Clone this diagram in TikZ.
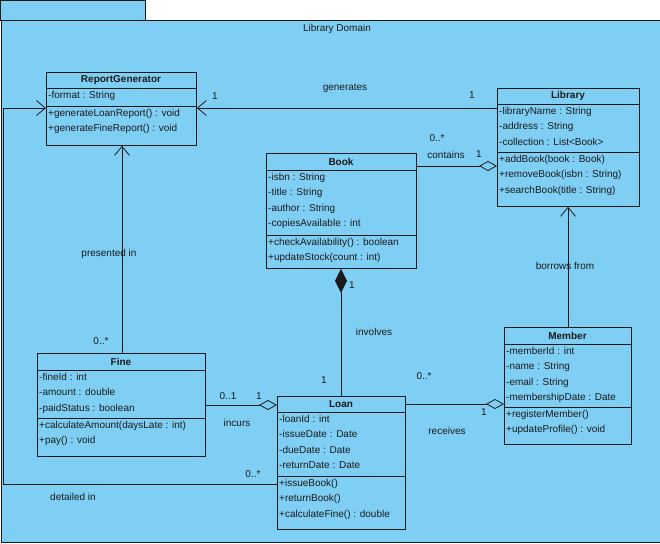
\documentclass[tikz,border=0pt]{standalone}
\usepackage{fontspec}
\setmainfont{Liberation Sans}
\usetikzlibrary{arrows.meta}
\definecolor{bg}{HTML}{7FCFF5}
\definecolor{ink}{HTML}{1A1A1A}
\tikzset{
  list/.style={align=left, inner sep=0pt, anchor=north west, font=\fontsize{10}{15.5}\selectfont, text=ink},
  lbl/.style={inner sep=0pt, font=\fontsize{10}{12}\selectfont, text=ink},
  conn/.style={draw=ink, line width=0.8pt},
  openarr/.style={-{Straight Barb[length=9pt,width=15pt,line width=0.8pt]}},
  aggr/.style={-{Diamond[open,length=18pt,width=10pt,line width=0.8pt]}},
  comp/.style={-{Diamond[length=24pt,width=12pt]}},
}
\newcommand\umlbox[8]{%
  \node[draw=ink, line width=0.8pt, fill=bg, minimum width={(#4-#2)*1pt}, minimum height={(#7-#3)*1pt}, anchor=north west, inner sep=0pt] (#1) at (#2,#3) {};
  \draw[ink, line width=0.8pt] (#2,#5) -- (#4,#5) (#2,#6) -- (#4,#6);
  \node[lbl, font=\fontsize{10}{12}\selectfont\bfseries] (#1-t) at ({(#2+#4)/2},{(#3+#5)/2}) {#8};
}
\begin{document}
\begin{tikzpicture}[x=1pt,y=-1pt]
\useasboundingbox (0,0) rectangle (660,543);
\draw[ink, line width=0.8pt, fill=bg] (0.5,0.5) rectangle (145,20);
\node[draw=ink, line width=0.8pt, fill=bg, minimum width=659pt, minimum height=522pt, anchor=north west, inner sep=0pt] (frame) at (0.5,20) {};
\node[lbl] (title) at (337,29) {Library Domain};

\umlbox{rg}{46}{72}{196}{88}{106}{145}{ReportGenerator}
\node[list] (rg-a) at (48,91) {-format : String};
\node[list] (rg-o) at (48,109) {+generateLoanReport() : void\\+generateFineReport() : void};

\umlbox{lib}{497}{88}{639}{104}{152}{206}{Library}
\node[list] (lib-a) at (499,107) {-libraryName : String\\-address : String\\-collection : List<Book>};
\node[list] (lib-o) at (499,155) {+addBook(book : Book)\\+removeBook(isbn : String)\\+searchBook(title : String)};

\umlbox{book}{266}{153}{416}{170}{235}{268}{Book}
\node[list] (book-a) at (268,173) {-isbn : String\\-title : String\\-author : String\\-copiesAvailable : int};
\node[list] (book-o) at (268,238) {+checkAvailability() : boolean\\+updateStock(count : int)};

\umlbox{mem}{504}{327}{631}{344}{407}{444}{Member}
\node[list] (mem-a) at (506,347) {-memberId : int\\-name : String\\-email : String\\-membershipDate : Date};
\node[list] (mem-o) at (506,410) {+registerMember()\\+updateProfile() : void};

\umlbox{fine}{37}{353}{205}{370}{418}{456}{Fine}
\node[list] (fine-a) at (39,373) {-fineId : int\\-amount : double\\-paidStatus : boolean};
\node[list] (fine-o) at (39,421) {+calculateAmount(daysLate : int)\\+pay() : void};

\umlbox{loan}{277}{396}{405}{412}{476}{529}{Loan}
\node[list] (loan-a) at (279,415) {-loanId : int\\-issueDate : Date\\-dueDate : Date\\-returnDate : Date};
\node[list] (loan-o) at (279,479) {+issueBook()\\+returnBook()\\+calculateFine() : double};

% generates
\draw[conn, openarr] (lib.west |- 0,108) -- (rg.east |- 0,108);
\node[lbl] (l1) at (345,88) {generates};
\node[lbl] (l2) at (472,95) {1};
\node[lbl] (l3) at (215,96) {1};
% contains
\draw[conn, aggr] (book.east |- 0,166) -- (lib.west |- 0,166);
\node[lbl] (l4) at (437,138) {0..*};
\node[lbl] (l5) at (446,155) {contains};
\node[lbl] (l6) at (479,154) {1};
% presented in
\draw[conn, openarr] (fine.north -| 122,0) -- (rg.south -| 122,0);
\node[lbl] (l7) at (109,254) {presented in};
\node[lbl] (l8) at (101,341) {0..*};
% borrows from
\draw[conn, openarr] (mem.north -| 568,0) -- (lib.south -| 568,0);
\node[lbl] (l9) at (565,266) {borrows from};
% involves
\draw[conn, comp] (loan.north -| 341,0) -- (book.south -| 341,0);
\node[lbl] (l10) at (352,285) {1};
\node[lbl] (l11) at (374,332) {involves};
\node[lbl] (l12) at (324,380) {1};
% incurs
\draw[conn, aggr] (fine.east |- 0,405) -- (loan.west |- 0,405);
\node[lbl] (l13) at (228,396) {0..1};
\node[lbl] (l14) at (259,396) {1};
\node[lbl] (l15) at (237,423) {incurs};
% receives
\draw[conn, aggr] (loan.east |- 0,404) -- (mem.west |- 0,404);
\node[lbl] (l16) at (424,376) {0..*};
\node[lbl] (l17) at (484,412) {1};
\node[lbl] (l18) at (447,431) {receives};
% detailed in
\coordinate (c1) at (3,484);
\coordinate (c2) at (3,108);
\draw[conn, openarr] (loan.west |- 0,484) -- (c1) -- (c2) -- (rg.west |- 0,108);
\node[lbl] (l19) at (253,474) {0..*};
\node[lbl] (l20) at (73,497) {detailed in};
\end{tikzpicture}
\end{document}
